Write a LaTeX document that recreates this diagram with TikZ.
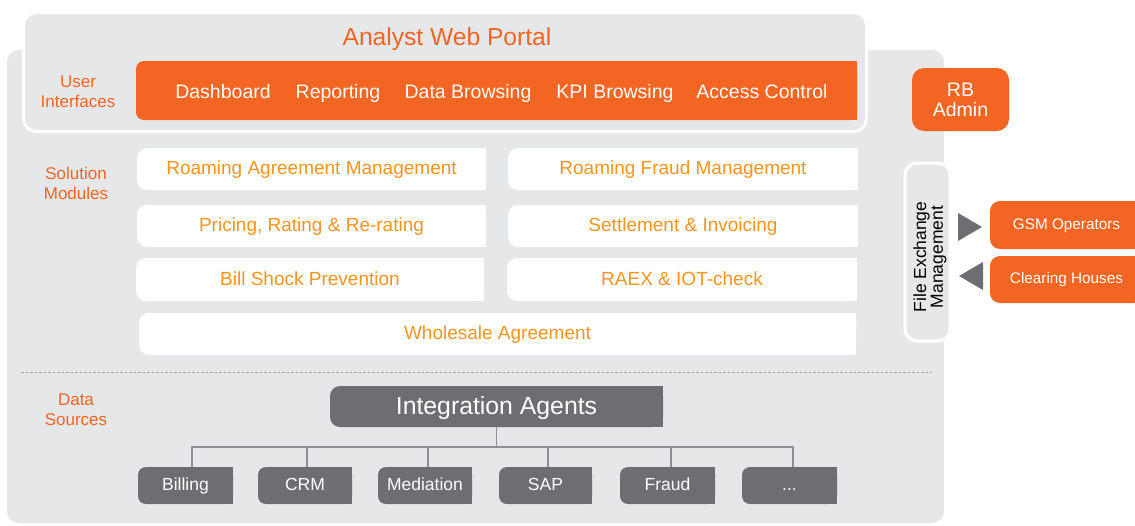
\documentclass[tikz,border=0pt]{standalone}
\usepackage{fontspec}
\setmainfont{Liberation Sans}
\definecolor{panel}{HTML}{E6E7E8}
\definecolor{brand}{HTML}{F26522}
\definecolor{amber}{HTML}{F7941D}
\definecolor{slate}{HTML}{6D6E71}
\definecolor{treeline}{HTML}{8E8F92}
\definecolor{sepline}{HTML}{9D9FA2}
\begin{document}
\begin{tikzpicture}[x=1pt,y=-1pt,
  lbox/.style 2 args={path picture={
      \fill[#1,rounded corners=#2] (path picture bounding box.south west) rectangle (path picture bounding box.north east);
      \fill[#1] (path picture bounding box.south) rectangle (path picture bounding box.north east);}},
  sz/.style 2 args={minimum width=#1pt,minimum height=#2pt},
  boxtxt/.style={inner sep=0pt,outer sep=0pt},
  modbox/.style={boxtxt,lbox={white}{10pt},text=amber,font=\fontsize{19}{20}\selectfont,text height=13.7pt,text depth=1.9pt},
  srcbox/.style={boxtxt,lbox={slate}{8pt},text=white,font=\fontsize{17.5}{20}\selectfont,sz={95}{37},text height=12.6pt,text depth=3.5pt},
  bartxt/.style={inner sep=0pt,text height=14pt,text depth=0pt,text=white,font=\fontsize{19.5}{20}\selectfont},
  lbl/.style={text=brand,align=center,inner sep=0pt,font=\fontsize{17}{20}\selectfont},
  extbox/.style={boxtxt,lbox={brand}{10pt},text=white,font=\fontsize{15.3}{18}\selectfont,text height=11pt,text depth=3pt},
  tree/.style={draw=treeline,line width=1.2pt},
  divider/.style={draw=sepline,line width=0.9pt,dash pattern=on 2.5pt off 2pt}]
\fill[white] (0,0) rectangle (1135,525);
\useasboundingbox (0,0) rectangle (1135,525);
% back panel
\fill[panel,rounded corners=12pt] (7,50) rectangle (944,523);
% portal panel
\filldraw[fill=panel,draw=white,line width=3pt,rounded corners=13pt] (23.5,12.5) rectangle (866.5,131.5);
\node[inner sep=0pt,text=brand,font=\fontsize{24.6}{26}\selectfont,text height=17.7pt,text depth=0pt] (title) at (447,37) {Analyst Web Portal};
\node[inner sep=0pt,sz={721}{59},lbox={brand}{8pt}] (uibar) at (496.5,90.5) {};
\node[bartxt] (dash) at (223,91) {Dashboard};
\node[bartxt] (rep) at (338,91) {Reporting};
\node[bartxt] (dbr) at (468,91) {Data Browsing};
\node[bartxt] (kpi) at (615,91) {KPI Browsing};
\node[bartxt] (acc) at (762,91) {Access Control};
\node[lbl] (ui) at (78,91.5) {User\\Interfaces};
% RB admin
\node[fill=brand,rounded corners=12pt,sz={97}{63},inner sep=0pt,text=white,align=center,font=\fontsize{19.5}{20}\selectfont] (rb) at (960.5,99.5) {RB\\Admin};
% solution modules
\node[lbl] (sm) at (76,183.5) {Solution\\Modules};
\node[modbox,sz={349}{42}] (m1) at (311.5,169) {Roaming Agreement Management};
\node[modbox,sz={350}{42}] (m2) at (683,169) {Roaming Fraud Management};
\node[modbox,sz={349}{42}] (m3) at (311.5,226) {Pricing, Rating \& Re-rating};
\node[modbox,sz={350}{42}] (m4) at (683,226) {Settlement \& Invoicing};
\node[modbox,sz={348}{43}] (m5) at (310,279.5) {Bill Shock Prevention};
\node[modbox,sz={350}{43}] (m6) at (682,279.5) {RAEX \& IOT-check};
\node[modbox,sz={717}{42}] (m7) at (497.5,334) {Wholesale Agreement};
% file exchange
\node[fill=panel,draw=white,line width=3pt,rounded corners=12pt,sz={45}{178},inner sep=0pt] (fem) at (927.5,252) {};
\node[rotate=90,align=center,inner sep=0pt,font=\fontsize{17.5}{15.5}\selectfont] (femtxt) at (930,257) {File Exchange\\Management};
\fill[slate] (958,213) -- (958,241) -- (982,227) -- cycle;
\fill[slate] (983,262) -- (983,290) -- (959,276) -- cycle;
\node[extbox,sz={153}{48}] (gsm) at (1066.5,225) {GSM Operators};
\node[extbox,sz={153}{47}] (ch) at (1066.5,279.5) {Clearing Houses};
% divider
\coordinate (dl) at (21,372);
\coordinate (dr) at (932,372);
\draw[divider] (dl) -- (dr);
% data sources
\node[lbl] (ds) at (76,409.5) {Data\\Sources};
\node[boxtxt,lbox={slate}{10pt},sz={333}{41},text=white,font=\fontsize{24.8}{26}\selectfont,text height=17.9pt,text depth=1.1pt] (ia) at (496.5,406.5) {Integration Agents};
\node[srcbox] (bil) at (185.5,485.5) {Billing};
\node[srcbox,sz={94}{37}] (crm) at (305,485.5) {CRM};
\node[srcbox,sz={94}{37}] (med) at (425,485.5) {Mediation};
\node[srcbox,sz={93}{37}] (sap) at (545.5,485.5) {SAP};
\node[srcbox] (fra) at (667.5,485.5) {Fraud};
\node[srcbox] (dots) at (789.5,485.5) {...};
\draw[tree] (ia.south) -- ++(0,20) coordinate (bus);
\draw[tree] ([xshift=6.5pt]bil.north) |- (bus) -| ([xshift=3.5pt]dots.north);
\draw[tree] ([xshift=2pt]crm.north) -- ([xshift=2pt]crm.north |- bus);
\draw[tree] ([xshift=3pt]med.north) -- ([xshift=3pt]med.north |- bus);
\draw[tree] ([xshift=2.5pt]sap.north) -- ([xshift=2.5pt]sap.north |- bus);
\draw[tree] ([xshift=3.5pt]fra.north) -- ([xshift=3.5pt]fra.north |- bus);
\end{tikzpicture}
\end{document}
